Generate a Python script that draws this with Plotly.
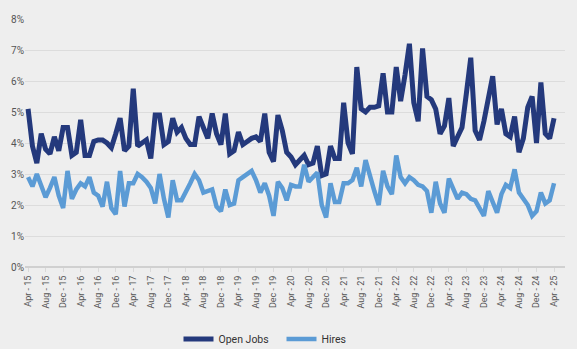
import plotly.graph_objects as go

open_jobs = [
    5.1, 3.9, 3.35, 4.3, 3.8, 3.65, 4.2, 3.75, 4.5, 4.5,
    3.6, 3.7, 4.75, 3.6, 3.6, 4.05, 4.1, 4.1, 4.0, 3.85,
    4.3, 4.8, 3.75, 3.9, 5.75, 3.9, 4.0, 4.1, 3.5, 4.9,
    4.9, 3.95, 4.05, 4.8, 4.35, 4.5, 4.15, 3.95, 3.95, 4.85,
    4.5, 4.15, 4.95, 4.3, 3.95, 4.95, 3.65, 3.75, 4.35, 3.95,
    4.05, 4.15, 4.2, 4.05, 4.95, 3.7, 3.4, 4.9, 4.4, 3.7,
    3.55, 3.3, 3.45, 3.6, 3.3, 3.35, 3.9, 2.95, 3.0, 3.9,
    3.5, 3.5, 5.3, 4.0, 3.65, 6.45, 5.1, 5.0, 5.15, 5.15,
    5.2, 6.25, 5.0, 5.0, 6.45, 5.35, 6.2, 7.2, 5.3, 4.7,
    7.05, 5.5, 5.4, 5.1, 4.3, 4.55, 5.45, 3.9, 4.2, 4.5,
    5.6, 6.75, 4.4, 4.1, 4.7, 5.4, 6.15, 4.6, 5.1, 4.3,
    4.2, 4.85, 3.7, 4.15, 5.15, 5.5, 4.0, 5.95, 4.3, 4.15,
    4.8,
]

hires = [
    2.9, 2.6, 3.0, 2.6, 2.25, 2.55, 2.9, 2.3, 1.9, 3.1,
    2.2, 2.5, 2.7, 2.6, 2.9, 2.4, 2.3, 1.95, 2.75, 1.9,
    1.7, 3.1, 1.95, 2.7, 2.7, 3.0, 2.9, 2.75, 2.55, 2.05,
    3.0, 2.2, 1.6, 2.8, 2.15, 2.15, 2.4, 2.7, 3.0, 2.8,
    2.4, 2.45, 2.5, 1.95, 1.8, 2.5, 2.0, 2.05, 2.8, 2.9,
    3.0, 3.1, 2.8, 2.4, 2.7, 2.3, 1.65, 2.75, 2.55, 2.15,
    2.65, 2.6, 2.6, 3.3, 2.75, 2.9, 3.05, 2.0, 1.6, 2.7,
    2.1, 2.1, 2.7, 2.7, 2.8, 3.2, 2.6, 3.45, 2.9, 2.45,
    2.0, 3.1, 2.6, 2.35, 3.6, 2.9, 2.7, 2.9, 2.8, 2.65,
    2.6, 2.45, 1.75, 2.75, 2.05, 1.75, 2.85, 2.5, 2.2, 2.4,
    2.35, 2.2, 2.15, 1.9, 1.65, 2.45, 2.1, 1.75, 2.35, 2.65,
    2.55, 3.15, 2.4, 2.2, 2.0, 1.65, 1.8, 2.4, 2.05, 2.15,
    2.7,
]

tick_labels = [
    "Apr - 15", "Aug - 15", "Dec - 15", "Apr - 16", "Aug - 16", "Dec - 16",
    "Apr - 17", "Aug - 17", "Dec - 17", "Apr - 18", "Aug - 18", "Dec - 18",
    "Apr - 19", "Aug - 19", "Dec - 19", "Apr - 20", "Aug - 20", "Dec - 20",
    "Apr - 21", "Aug - 21", "Dec - 21", "Apr - 22", "Aug - 22", "Dec - 22",
    "Apr - 23", "Aug - 23", "Dec - 23", "Apr - 24", "Aug - 24", "Dec - 24",
    "Apr - 25",
]

y_ticks = [0, 1, 2, 3, 4, 5, 6, 7, 8]
y_tick_text = [f"{v}%" for v in y_ticks]

x = list(range(len(open_jobs)))
tick_vals = list(range(0, len(open_jobs), 4))

fig = go.Figure()
fig.add_trace(go.Scatter(x=x, y=open_jobs, mode="lines", name="Open Jobs",
                         line=dict(color="#24397c", width=5)))
fig.add_trace(go.Scatter(x=x, y=hires, mode="lines", name="Hires",
                         line=dict(color="#5b9bd5", width=4.5)))

fig.update_layout(
    width=577, height=349,
    margin=dict(l=25, r=12, t=19, b=82, autoexpand=False),
    paper_bgcolor="#eeeeee", plot_bgcolor="#eeeeee",
    font=dict(family="Roboto, Arial, sans-serif", color="#555555", size=10),
    showlegend=True,
    legend=dict(orientation="h", x=0.475, xanchor="center", yref="container",
                y=10 / 349, yanchor="middle",
                font=dict(size=10.5, color="#333333"), bgcolor="rgba(0,0,0,0)",
                entrywidth=58, entrywidthmode="pixels"),
    xaxis=dict(range=[-0.7, 122.5], tickmode="array", tickvals=tick_vals, ticktext=tick_labels,
               tickangle=-90, tickfont=dict(size=9, color="#555555"), showgrid=False,
               ticks="outside", ticklen=4, tickcolor="#d9d9d9", zeroline=False,
               showline=False, automargin=False),
    yaxis=dict(range=[0, 8], tickmode="array", tickvals=y_ticks, ticktext=y_tick_text,
               gridcolor="#dcdcdc", gridwidth=1, zeroline=True, zerolinecolor="#d0d0d0",
               zerolinewidth=1.5, tickfont=dict(size=10, color="#555555"), ticks="",
               automargin=False),
)

fig.write_html("out.html")
